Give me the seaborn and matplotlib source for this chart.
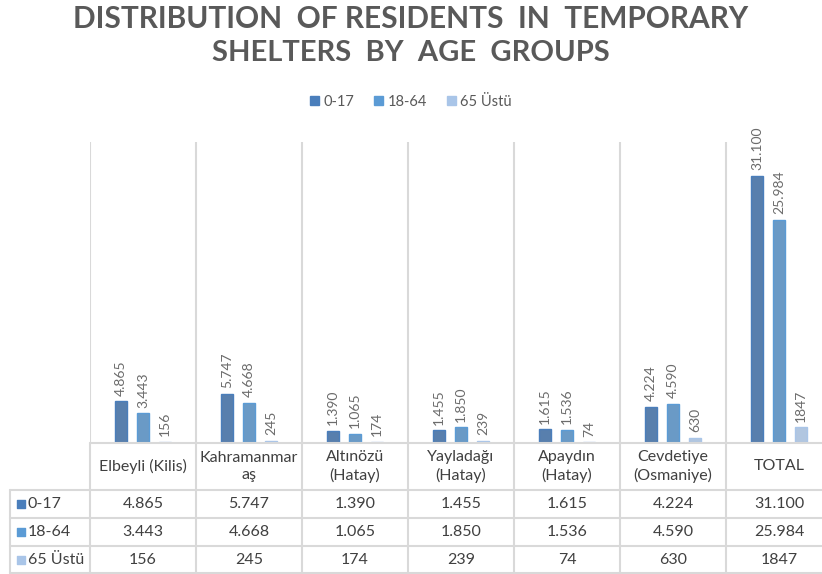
import pandas as pd
import matplotlib.pyplot as plt
import seaborn as sns

# Data
locations = ["Elbeyli (Kilis)", "Kahramanmaraş", "Altınözü (Hatay)", "Yayladağı (Hatay)",
             "Apaydın (Hatay)", "Cevdetiye (Osmaniye)", "TOTAL"]
header_labels = ["Elbeyli (Kilis)", "Kahramanmar\naş", "Altınözü\n(Hatay)", "Yayladağı\n(Hatay)",
                 "Apaydın\n(Hatay)", "Cevdetiye\n(Osmaniye)", "TOTAL"]
age_groups = ["0-17", "18-64", "65 Üstü"]
age_0_17 = [4865, 5747, 1390, 1455, 1615, 4224, 31100]
age_18_64 = [3443, 4668, 1065, 1850, 1536, 4590, 25984]
age_65_plus = [156, 245, 174, 239, 74, 630, 1847]
labels_0_17 = ["4.865", "5.747", "1.390", "1.455", "1.615", "4.224", "31.100"]
labels_18_64 = ["3.443", "4.668", "1.065", "1.850", "1.536", "4.590", "25.984"]
labels_65_plus = ["156", "245", "174", "239", "74", "630", "1847"]
colors = ["#4A7EBB", "#5B9BD5", "#A9C5E8"]

df = pd.DataFrame({
    "Location": locations * 3,
    "Residents": age_0_17 + age_18_64 + age_65_plus,
    "Age Group": [g for g in age_groups for _ in locations],
})

sns.set_theme(style="white")
plt.rcParams["font.family"] = ["Lato", "DejaVu Sans"]

W, H = 822, 574
fig = plt.figure(figsize=(W / 100, H / 100), dpi=100)
ax = fig.add_axes([90 / W, (H - 443) / H, (W - 90) / W, (443 - 142) / H])
ax_t = fig.add_axes([90 / W, 0, (W - 90) / W, (H - 443) / H])

sns.barplot(data=df, x="Location", y="Residents", hue="Age Group", palette=colors,
            width=0.62, gap=0.42, ax=ax, legend=False)
for cont, c in zip(ax.containers, colors):
    for bar in cont:
        bar.set_edgecolor(c)
        bar.set_linewidth(1)

for cont, labs in zip(ax.containers, [labels_0_17, labels_18_64, labels_65_plus]):
    ax.bar_label(cont, labels=labs, rotation=90, padding=4, fontsize=10, color="#6b6b6b")

xmax = -0.5 + (W - 90) / 106
ax.set_xlim(-0.5, xmax)
ax.set_ylim(0, 35000)
ax.set_xticks([i - 0.5 for i in range(len(locations))])
ax.set_xticklabels([])
ax.tick_params(length=0)
ax.set_yticks([])
ax.grid(axis="x", color="#D9D9D9", linewidth=1.5)
ax.set_xlabel("")
ax.set_ylabel("")
for s in ax.spines.values():
    s.set_visible(False)

# Data table below the plot
line_c = "#D9D9D9"
text_c = "#404040"
ax_t.set_xlim(-0.5, xmax)
ax_t.set_ylim(131, 0)
ax_t.axis("off")
px = lambda p: -0.5 + (p - 90) / 106
rows = [0, 47, 75, 103, 130]
for i in range(len(locations) + 1):
    ax_t.plot([i - 0.5, i - 0.5], [0, 130], color=line_c, lw=1.5, clip_on=False)
ax_t.plot([-0.5, xmax], [0, 0], color=line_c, lw=1.5, clip_on=False)
for r in rows[1:]:
    ax_t.plot([px(10), xmax], [r, r], color=line_c, lw=1.5, clip_on=False)
ax_t.plot([px(10), px(10)], [47, 130], color=line_c, lw=1.5, clip_on=False)

for i, name in enumerate(header_labels):
    ax_t.text(i, 23.5, name, ha="center", va="center", fontsize=11.5, color=text_c,
              linespacing=1.25)

series = [labels_0_17, labels_18_64, labels_65_plus]
for k, (grp, labs) in enumerate(zip(age_groups, series)):
    yc = (rows[k + 1] + rows[k + 2]) / 2
    ax_t.scatter([px(21)], [yc], marker="s", s=30, color=colors[k], clip_on=False)
    ax_t.text(px(28), yc, grp, ha="left", va="center", fontsize=11.5, color=text_c)
    for i, lab in enumerate(labs):
        ax_t.text(i, yc, lab, ha="center", va="center", fontsize=11.5, color=text_c)

# Title and legend
fig.text(0.5, 1 - 19 / H, "DISTRIBUTION  OF RESIDENTS  IN  TEMPORARY", ha="center", va="center",
         fontsize=21.5, fontweight="bold", color="#595959")
fig.text(0.5, 1 - 53 / H, "SHELTERS  BY  AGE  GROUPS", ha="center", va="center",
         fontsize=21, fontweight="bold", color="#595959")
handles = [plt.Rectangle((0, 0), 1, 1, color=c) for c in colors]
fig.legend(handles, age_groups, loc="center", bbox_to_anchor=(0.5, 1 - 102 / H), ncol=3,
           frameon=False, fontsize=10.5, handlelength=0.6, handleheight=0.6,
           handletextpad=0.3, columnspacing=1.4, labelcolor="#595959")

fig.savefig("out.png", dpi=100)
